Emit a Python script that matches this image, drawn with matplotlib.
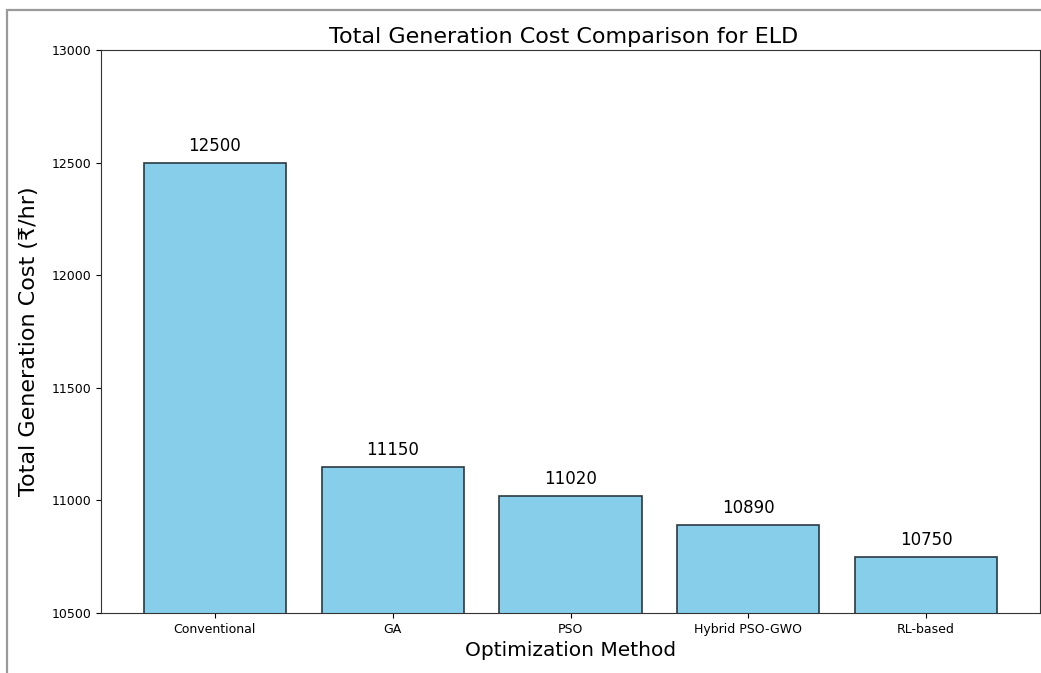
import matplotlib.pyplot as plt
from matplotlib.patches import Rectangle

methods = ['Conventional', 'GA', 'PSO', 'Hybrid PSO-GWO', 'RL-based']
costs = [12500, 11150, 11020, 10890, 10750]

W, H = 1041, 673
fig = plt.figure(figsize=(W / 100, H / 100), dpi=100)

# outer frame of the figure (only its left and top edges are inside the canvas)
fig.patches.append(Rectangle((7 / W, -0.1), 1.2, (H - 10) / H + 0.1,
                             transform=fig.transFigure, fill=False,
                             edgecolor='#9a9a9a', linewidth=1.6))

ax = fig.add_axes([101 / W, (H - 613) / H, (1040 - 101) / W, (613 - 50) / H])
bars = ax.bar(methods, costs, color='skyblue', edgecolor='#2b3a42', linewidth=1.2)

for rect, v in zip(bars, costs):
    ax.text(rect.get_x() + rect.get_width() / 2, v + 35, str(v),
            ha='center', va='bottom', fontsize=12)

ax.set_ylim(10500, 13000)
ax.set_yticks(range(10500, 13001, 500))
ax.tick_params(labelsize=9)
for s in ax.spines.values():
    s.set_color('#333333')
ax.set_title('Total Generation Cost Comparison for ELD', fontsize=16, pad=5, x=0.493)
ax.set_xlabel('Optimization Method', fontsize=14.5)
ax.set_ylabel('Total Generation Cost (₹/hr)', fontsize=16)
ax.yaxis.set_label_coords(-0.066, 0.483)

fig.savefig('out.png', dpi=100)
